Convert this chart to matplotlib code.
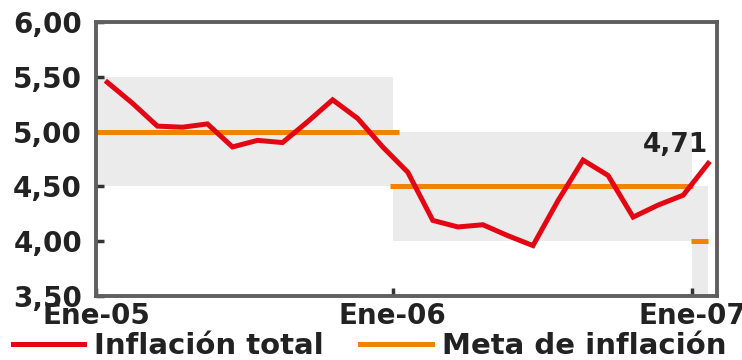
import numpy as np
import matplotlib.pyplot as plt
from matplotlib.lines import Line2D

# Inflación total anual (%), mensual ene-2005 a ene-2007
meses = np.arange(25)
inflacion = [5.45, 5.26, 5.05, 5.04, 5.07, 4.86, 4.92, 4.90, 5.09, 5.29,
             5.12, 4.86, 4.63, 4.19, 4.13, 4.15, 4.05, 3.96, 4.37, 4.74,
             4.60, 4.22, 4.33, 4.42, 4.71]

# Meta de inflación por año y su rango (+/- 0.5)
meta = [5.0, 4.5, 4.0]
rango = 0.5
banda_ini = [-0.45, 11.4, 23.35]
banda_fin = [11.4, 23.35, 24.0]
meta_ini = [-0.45, 11.3, 23.3]
meta_fin = [11.65, 23.4, 24.0]

xticks = [-0.45, 11.4, 23.35]
xlabels = ['Ene-05', 'Ene-06', 'Ene-07']
yticks = [3.5, 4.0, 4.5, 5.0, 5.5, 6.0]
ylabels = ['3,50', '4,00', '4,50', '5,00', '5,50', '6,00']

rojo = '#e30613'
naranja = '#f08300'
gris = '#ebebeb'
texto = '#222222'

plt.rcParams['font.family'] = 'DejaVu Sans'
plt.rcParams['font.weight'] = 'bold'

fig = plt.figure(figsize=(7.42, 3.6), dpi=100)
ax = fig.add_axes([96 / 742, 1 - 296 / 360, (717 - 96) / 742, (296 - 22) / 360])

for x0, x1, m in zip(banda_ini, banda_fin, meta):
    ax.fill_between([x0, x1], m - rango, m + rango, color=gris, lw=0, zorder=1)
for x0, x1, m in zip(meta_ini, meta_fin, meta):
    ax.plot([x0, x1], [m, m], color=naranja, lw=3.6, solid_capstyle='butt', zorder=2)

ax.plot(meses, inflacion, color=rojo, lw=3.6, solid_joinstyle='miter', zorder=3)
ax.text(meses[-1], inflacion[-1] + 0.1, f'{inflacion[-1]:.2f}'.replace('.', ','),
        ha='right', va='baseline', fontsize=19, color=texto)

ax.set_xlim(-0.45, 24.35)
ax.set_ylim(3.5, 6.0)
ax.set_xticks(xticks)
ax.set_xticklabels(xlabels)
ax.set_yticks(yticks)
ax.set_yticklabels(ylabels)
ax.tick_params(direction='in', length=6, width=2.5, color='#333333',
               labelsize=20, labelcolor=texto)
ax.tick_params(axis='y', pad=10)
ax.tick_params(axis='x', pad=4)

for s in ax.spines.values():
    s.set_color('#5f5f5f')
    s.set_linewidth(2.8)

handles = [Line2D([], [], color=rojo, lw=3.6), Line2D([], [], color=naranja, lw=3.6)]
fig.legend(handles, ['Inflación total', 'Meta de inflación'], loc='lower left',
           bbox_to_anchor=(0.017, 0.0), ncol=2, frameon=False, fontsize=21,
           handlelength=2.45, handletextpad=0.35, columnspacing=1.25,
           borderpad=0, borderaxespad=0, labelcolor=texto)

fig.savefig('out.png', dpi=100)
